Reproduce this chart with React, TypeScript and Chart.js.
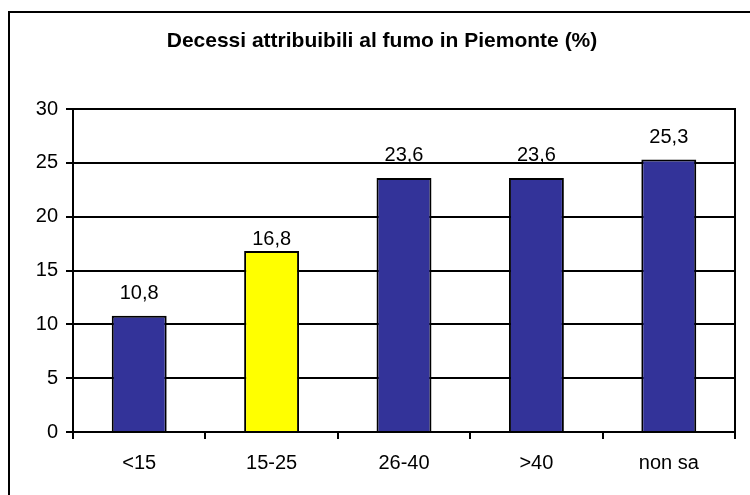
import React, { useEffect, useRef } from "react";
import { Chart, registerables } from "chart.js";

Chart.register(...registerables);

const title = "Decessi attribuibili al fumo in Piemonte (%)";
const categories = ["<15", "15-25", "26-40", ">40", "non sa"];
const values = [10.8, 16.8, 23.6, 23.6, 25.3];
const barColors = ["#333399", "#FFFF00", "#333399", "#333399", "#333399"];
const yTicks = [0, 5, 10, 15, 20, 25, 30];

const FONT = "'Liberation Sans', Arial, Helvetica, sans-serif";
// gap (px) between bar top and label baseline, per bar (style only)
const labelGaps = [17, 6, 17, 17, 17];

const fmt = (v: number) => v.toFixed(1).replace(".", ",");

const framePlugin = {
  id: "frame",
  beforeDraw(chart: any) {
    const ctx = chart.ctx;
    ctx.save();
    ctx.fillStyle = "#ffffff";
    ctx.fillRect(0, 0, chart.width, chart.height);
    ctx.fillStyle = "#000000";
    ctx.fillRect(8, 11, 2, chart.height - 11);
    ctx.fillRect(8, 11, chart.width - 8, 2);
    // title
    ctx.font = `bold 21px ${FONT}`;
    ctx.textAlign = "center";
    ctx.textBaseline = "alphabetic";
    ctx.fillText(title, 382, 47);
    ctx.restore();
  },
  afterDraw(chart: any) {
    const { ctx, chartArea } = chart;
    ctx.save();
    ctx.strokeStyle = "#000000";
    ctx.lineWidth = 2;
    ctx.beginPath();
    ctx.moveTo(chartArea.right, chartArea.top - 1);
    ctx.lineTo(chartArea.right, chartArea.bottom + 7);
    ctx.stroke();
    ctx.restore();
  },
};

const labelPlugin = {
  id: "valueLabels",
  afterDatasetsDraw(chart: any) {
    const ctx = chart.ctx;
    const meta = chart.getDatasetMeta(0);
    ctx.save();
    ctx.font = `20px ${FONT}`;
    ctx.fillStyle = "#000000";
    ctx.textAlign = "center";
    ctx.textBaseline = "alphabetic";
    meta.data.forEach((bar: any, i: number) => {
      ctx.fillText(fmt(values[i]), bar.x, bar.y - labelGaps[i]);
    });
    ctx.restore();
  },
};

export default function App() {
  const ref = useRef<HTMLCanvasElement | null>(null);
  useEffect(() => {
    if (!ref.current) return;
    Chart.defaults.font.family = FONT;
    const chart = new Chart(ref.current, {
      type: "bar",
      data: {
        labels: categories,
        datasets: [
          {
            data: values,
            backgroundColor: barColors,
            borderColor: "#000000",
            borderWidth: 2,
            categoryPercentage: 1,
            barPercentage: 0.415,
          },
        ],
      },
      options: {
        animation: false,
        responsive: false,
        maintainAspectRatio: false,
        layout: { padding: { top: 109, right: 15, left: 0, bottom: 0 } },
        plugins: {
          legend: { display: false },
          tooltip: { enabled: false },
          title: { display: false, text: title },
        },
        scales: {
          x: {
            offset: true,
            grid: {
              offset: true,
              drawOnChartArea: false,
              drawTicks: true,
              tickLength: 7,
              color: "#000000",
              lineWidth: 2,
            },
            border: { display: true, color: "#000000", width: 2 },
            ticks: {
              color: "#000000",
              font: { size: 20, family: FONT },
              padding: 12,
              maxRotation: 0,
              autoSkip: false,
            },
            afterFit(scale: any) {
              scale.height = 63;
            },
          },
          y: {
            min: 0,
            max: 30,
            afterBuildTicks(scale: any) {
              scale.ticks = yTicks.map((v) => ({ value: v }));
            },
            grid: {
              color: "#000000",
              lineWidth: 2,
              drawTicks: true,
              tickLength: 7,
            },
            border: { display: true, color: "#000000", width: 2 },
            ticks: {
              color: "#000000",
              font: { size: 20, family: FONT },
              padding: 8,
            },
            afterFit(scale: any) {
              scale.width = 73;
            },
          },
        },
      },
      plugins: [framePlugin, labelPlugin],
    });
    return () => chart.destroy();
  }, []);
  return (
    <div style={{ position: "absolute", left: 0, top: 0, width: 750, height: 495 }}>
      <canvas ref={ref} width={750} height={495} style={{ width: 750, height: 495 }} />
    </div>
  );
}
